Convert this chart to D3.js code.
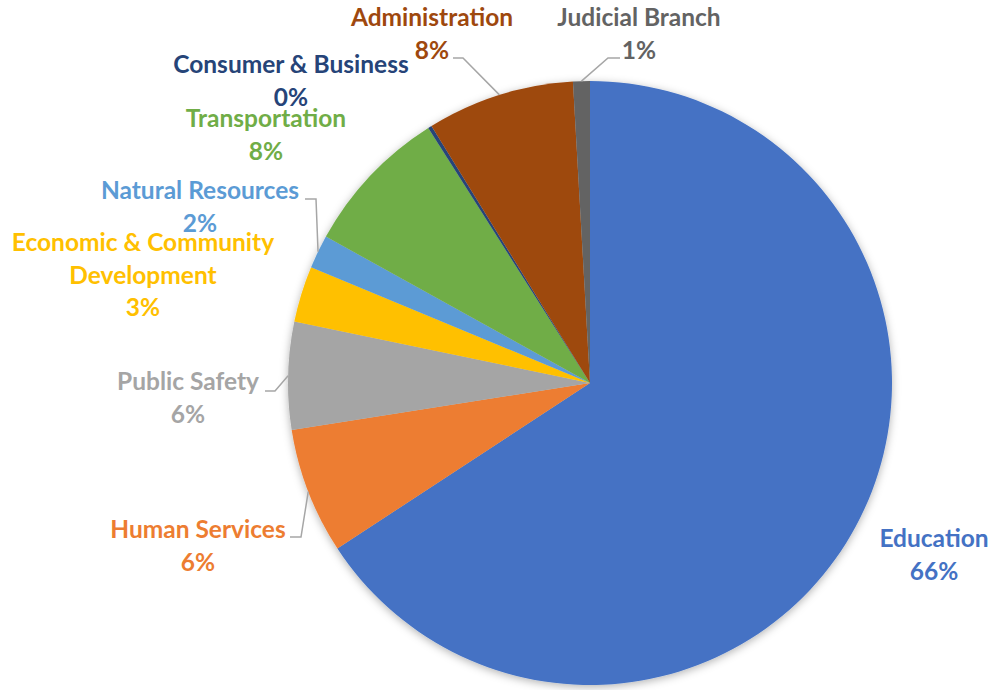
<!DOCTYPE html>
<html>
<head>
<meta charset="utf-8">
<script src="https://cdn.jsdelivr.net/npm/d3@7"></script>
<style>
  html, body { margin: 0; padding: 0; background: #fff; }
  svg { display: block; }
  text { font-family: Lato, "Open Sans", sans-serif; font-weight: 700; }
</style>
</head>
<body>
<div id="chart"></div>
<script>
// spending share by area, clockwise from 12 o'clock
const categories = ['Education', 'Human Services', 'Public Safety', 'Economic & Community Development',
    'Natural Resources', 'Transportation', 'Consumer & Business', 'Administration', 'Judicial Branch'];
const shares = [65.8, 6.75, 5.75, 3.0, 1.8, 7.95, 0.2, 7.9, 0.9];
const pctLabels = ['66%', '6%', '6%', '3%', '2%', '8%', '0%', '8%', '1%'];
const colors = ['#4472C4', '#ED7D31', '#A5A5A5', '#FFC000', '#5B9BD5', '#70AD47', '#264478', '#9E480E', '#636363'];

// label layout (text lines, center x, first baseline)
const labelLines = [
    ['Education'], ['Human Services'], ['Public Safety'], ['Economic & Community', 'Development'],
    ['Natural Resources'], ['Transportation'], ['Consumer & Business'], ['Administration'], ['Judicial Branch']
];
const labelPos = [[934, 547], [198, 538], [188, 390], [143, 251], [200, 199], [266, 127], [291, 73], [432, 26], [639, 26]];
// leader lines: [start, elbow] ; end point is on the slice's outer edge
const leaders = {
    1: [[290, 537], [301, 537]],
    2: [[265, 391], [275, 391]],
    4: [[305, 199], [316, 199]],
    7: [[453, 58], [463, 58]],
    8: [[620, 58], [608, 58]]
};

const width = 992, height = 690;
const cx = 590, cy = 383, radius = 302;
const lineH = 32.5;

const svg = d3.select('#chart').append('svg')
    .attr('width', width)
    .attr('height', height);

const defs = svg.append('defs');
const shadow = defs.append('filter').attr('id', 'shadow')
    .attr('x', '-10%').attr('y', '-10%').attr('width', '120%').attr('height', '120%');
shadow.append('feDropShadow')
    .attr('dx', 0).attr('dy', 2)
    .attr('stdDeviation', 4)
    .attr('flood-color', '#000')
    .attr('flood-opacity', 0.3);

const pie = d3.pie().sort(null).value(d => d);
const arcs = pie(shares);
const arc = d3.arc().innerRadius(0).outerRadius(radius);

const g = svg.append('g').attr('transform', `translate(${cx},${cy})`);

g.append('g').attr('filter', 'url(#shadow)')
    .selectAll('path')
    .data(arcs)
    .enter()
    .append('path')
    .attr('d', arc)
    .attr('fill', (d, i) => colors[i]);

// leader lines
Object.keys(leaders).forEach(k => {
    const a = arcs[+k];
    const mid = (a.startAngle + a.endAngle) / 2;
    const end = [cx + radius * Math.sin(mid), cy - radius * Math.cos(mid)];
    const pts = leaders[k].concat([end]);
    svg.append('path')
        .attr('d', d3.line()(pts))
        .attr('fill', 'none')
        .attr('stroke', '#A6A6A6')
        .attr('stroke-width', 1.5);
});

// labels
const labels = svg.selectAll('.label')
    .data(categories)
    .enter()
    .append('text')
    .attr('class', 'label')
    .attr('text-anchor', 'middle')
    .style('font-size', '24.5px')
    .attr('fill', (d, i) => colors[i]);

labels.each(function (d, i) {
    const t = d3.select(this);
    const [x, y] = labelPos[i];
    const lines = labelLines[i].concat([pctLabels[i]]);
    lines.forEach((s, j) => {
        t.append('tspan')
            .attr('x', x)
            .attr('y', y + j * lineH)
            .text(s);
    });
});
</script>
</body>
</html>
